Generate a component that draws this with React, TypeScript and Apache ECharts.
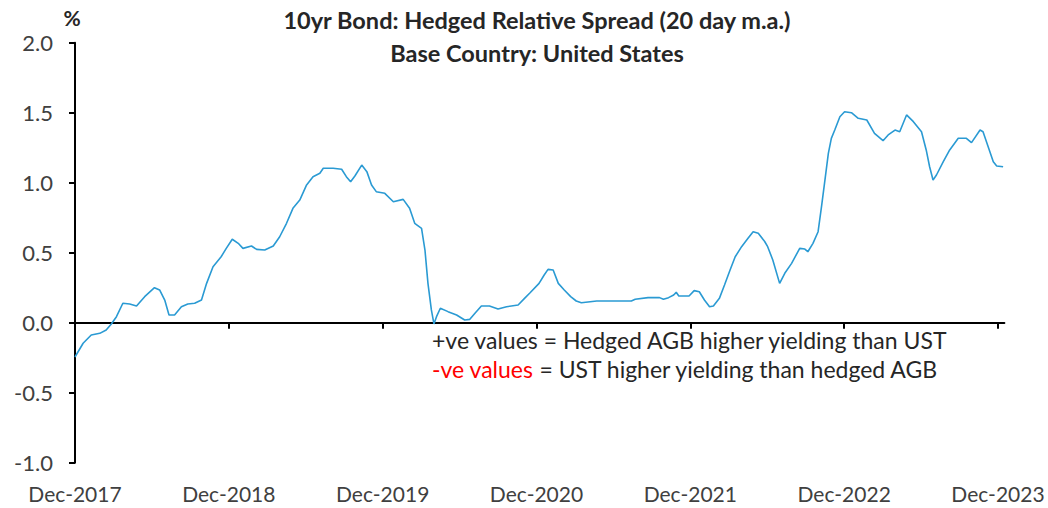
import React, { useEffect, useRef } from "react";
import * as echarts from "echarts";

const dates: string[] = [
  "2017-12-01","2017-12-20","2018-01-09","2018-01-29","2018-02-14","2018-02-26","2018-03-08","2018-03-23",
  "2018-04-09","2018-04-25","2018-05-14","2018-06-07","2018-06-19","2018-07-01","2018-07-11","2018-07-24",
  "2018-08-10","2018-08-25","2018-09-11","2018-09-27","2018-10-09","2018-10-24","2018-11-13","2018-11-25",
  "2018-12-09","2018-12-23","2019-01-04","2019-01-24","2019-02-06","2019-02-25","2019-03-15","2019-03-30",
  "2019-04-16","2019-05-01","2019-05-17","2019-06-03","2019-06-18","2019-07-04","2019-07-12","2019-08-05",
  "2019-08-25","2019-09-06","2019-09-16","2019-09-26","2019-10-12","2019-10-24","2019-11-05","2019-11-16",
  "2019-12-06","2019-12-26","2020-01-19","2020-02-04","2020-02-16","2020-03-02","2020-03-10","2020-03-17",
  "2020-03-25","2020-03-31","2020-04-07","2020-04-16","2020-05-04","2020-05-24","2020-06-13","2020-06-25",
  "2020-07-07","2020-07-22","2020-08-11","2020-09-01","2020-09-21","2020-10-18","2020-11-03","2020-11-16",
  "2020-12-07","2020-12-19","2020-12-28","2021-01-10","2021-01-22","2021-02-06","2021-02-21","2021-03-04",
  "2021-03-16","2021-04-22","2021-07-13","2021-07-22","2021-08-22","2021-09-19","2021-09-28","2021-10-10",
  "2021-10-22","2021-10-28","2021-11-04","2021-11-28","2021-12-10","2021-12-22","2022-01-04","2022-01-16",
  "2022-01-25","2022-02-09","2022-02-21","2022-03-04","2022-03-16","2022-04-01","2022-04-16","2022-04-28",
  "2022-05-10","2022-05-25","2022-06-02","2022-06-14","2022-06-30","2022-07-12","2022-07-28","2022-08-17",
  "2022-08-29","2022-09-06","2022-09-18","2022-09-30","2022-10-08","2022-10-16","2022-10-24","2022-11-01",
  "2022-11-09","2022-11-21","2022-12-02","2022-12-18","2023-01-04","2023-01-24","2023-02-12","2023-03-02",
  "2023-03-14","2023-03-30","2023-04-11","2023-04-27","2023-05-13","2023-06-02","2023-06-13","2023-06-21",
  "2023-06-29","2023-07-07","2023-07-23","2023-08-08","2023-08-28","2023-09-17","2023-09-29","2023-10-19",
  "2023-10-26","2023-11-08","2023-11-20","2023-11-28","2023-12-13"
];

const spread: number[] = [
  -0.245,-0.147,-0.088,-0.076,-0.052,-0.009,0.043,0.139,
  0.134,0.119,0.186,0.25,0.234,0.162,0.055,0.055,
  0.114,0.134,0.139,0.162,0.281,0.40,0.471,0.531,
  0.596,0.567,0.531,0.548,0.524,0.519,0.548,0.614,
  0.71,0.817,0.876,0.984,1.043,1.067,1.103,1.103,
  1.096,1.043,1.007,1.048,1.126,1.079,0.984,0.936,
  0.924,0.864,0.881,0.817,0.71,0.674,0.519,0.281,
  0.091,-0.009,0.043,0.103,0.079,0.055,0.019,0.024,
  0.067,0.119,0.119,0.098,0.114,0.126,0.174,0.214,
  0.281,0.341,0.381,0.376,0.281,0.234,0.186,0.155,
  0.143,0.155,0.155,0.167,0.179,0.179,0.167,0.179,
  0.198,0.217,0.191,0.191,0.229,0.221,0.162,0.114,
  0.119,0.174,0.269,0.376,0.471,0.543,0.603,0.65,
  0.639,0.58,0.543,0.448,0.281,0.353,0.424,0.531,
  0.526,0.507,0.567,0.65,0.829,1.019,1.21,1.317,
  1.376,1.471,1.507,1.50,1.46,1.448,1.353,1.30,
  1.341,1.376,1.364,1.484,1.436,1.364,1.234,1.114,
  1.019,1.055,1.15,1.234,1.317,1.317,1.286,1.376,
  1.364,1.257,1.15,1.119,1.114
];

const xTickLabels: string[] = ["Dec-2017","Dec-2018","Dec-2019","Dec-2020","Dec-2021","Dec-2022","Dec-2023"];
const yTicks: number[] = [-1, -0.5, 0, 0.5, 1, 1.5, 2];

const titleLines: string[] = [
  "10yr Bond: Hedged Relative Spread (20 day m.a.)",
  "Base Country: United States",
];
const notePositive = "+ve values = Hedged AGB higher yielding than UST";
const noteNegativeRed = "-ve values";
const noteNegativeRest = " = UST higher yielding than hedged AGB";

// months since Dec-2017
function monthOffset(s: string): number {
  const [y, m, d] = s.split("-").map(Number);
  return (y - 2017) * 12 + (m - 12) + (d - 1) / 30;
}

const FONT = "Lato, 'Open Sans', sans-serif";

export default function App() {
  const ref = useRef<HTMLDivElement>(null);
  useEffect(() => {
    if (!ref.current) return;
    const chart = echarts.init(ref.current, undefined, { renderer: "svg" });
    const tickVals = xTickLabels.map((_, i) => i * 12);
    const lineData = dates.map((d, i) => [monthOffset(d), spread[i]]);
    chart.setOption({
      animation: false,
      textStyle: { fontFamily: FONT },
      grid: { left: 75, right: 43.6, top: 42.7, bottom: 45.3, containLabel: false },
      xAxis: [
        {
          type: "value",
          min: 0,
          max: 72.5,
          interval: 12,
          position: "bottom",
          axisLine: { show: true, onZero: true, lineStyle: { color: "#000", width: 2 } },
          axisTick: { show: true, inside: false, length: 6, customValues: tickVals, lineStyle: { color: "#000", width: 2 } },
          axisLabel: { show: false },
          splitLine: { show: false },
        },
        {
          type: "value",
          min: 0,
          max: 72.5,
          interval: 12,
          position: "bottom",
          axisLine: { show: false, onZero: false },
          axisTick: { show: false },
          axisLabel: {
            show: true,
            margin: 20,
            customValues: tickVals,
            color: "#404040",
            fontSize: 21,
            fontFamily: FONT,
            formatter: (v: number) => {
              const i = Math.round(v / 12);
              return Math.abs(v - i * 12) < 1e-6 ? xTickLabels[i] ?? "" : "";
            },
          },
          splitLine: { show: false },
        },
      ],
      yAxis: {
        type: "value",
        min: yTicks[0],
        max: yTicks[yTicks.length - 1],
        interval: 0.5,
        axisLine: { show: true, lineStyle: { color: "#000", width: 2 } },
        axisTick: { show: true, inside: false, length: 6, lineStyle: { color: "#000", width: 2 } },
        axisLabel: {
          margin: 22,
          color: "#404040",
          fontSize: 22,
          fontFamily: FONT,
          formatter: (v: number) => v.toFixed(1),
        },
        splitLine: { show: false },
      },
      series: [
        {
          type: "line",
          xAxisIndex: 0,
          data: lineData,
          showSymbol: false,
          symbol: "none",
          lineStyle: { color: "#2A9AD3", width: 1.6 },
          itemStyle: { color: "#2A9AD3" },
        },
      ],
      graphic: [
        {
          type: "text",
          x: 72,
          y: 17,
          style: { text: "%", fontSize: 21, fontWeight: "bold", fill: "#262626", fontFamily: FONT, textAlign: "center", textVerticalAlign: "middle" },
        },
        {
          type: "text",
          x: 537,
          y: 20,
          style: { text: titleLines[0], fontSize: 23.5, fontWeight: "bold", fill: "#262626", fontFamily: FONT, textAlign: "center", textVerticalAlign: "middle" },
        },
        {
          type: "text",
          x: 537,
          y: 53,
          style: { text: titleLines[1], fontSize: 23.5, fontWeight: "bold", fill: "#262626", fontFamily: FONT, textAlign: "center", textVerticalAlign: "middle" },
        },
        {
          type: "text",
          x: 432,
          y: 340,
          style: { text: notePositive, fontSize: 23, fill: "#262626", fontFamily: FONT, textAlign: "left", textVerticalAlign: "middle" },
        },
        {
          type: "text",
          x: 432,
          y: 369,
          style: {
            text: "{r|" + noteNegativeRed + "}{k|" + noteNegativeRest + "}",
            fontSize: 23,
            fill: "#262626",
            fontFamily: FONT,
            textAlign: "left",
            textVerticalAlign: "middle",
            rich: {
              r: { fill: "#FF0000", fontSize: 23, fontFamily: FONT },
              k: { fill: "#262626", fontSize: 23, fontFamily: FONT },
            },
          },
        },
      ],
    });
    return () => chart.dispose();
  }, []);
  return <div ref={ref} style={{ position: "fixed", left: 0, top: 0, width: 1048, height: 508, background: "#fff" }} />;
}
